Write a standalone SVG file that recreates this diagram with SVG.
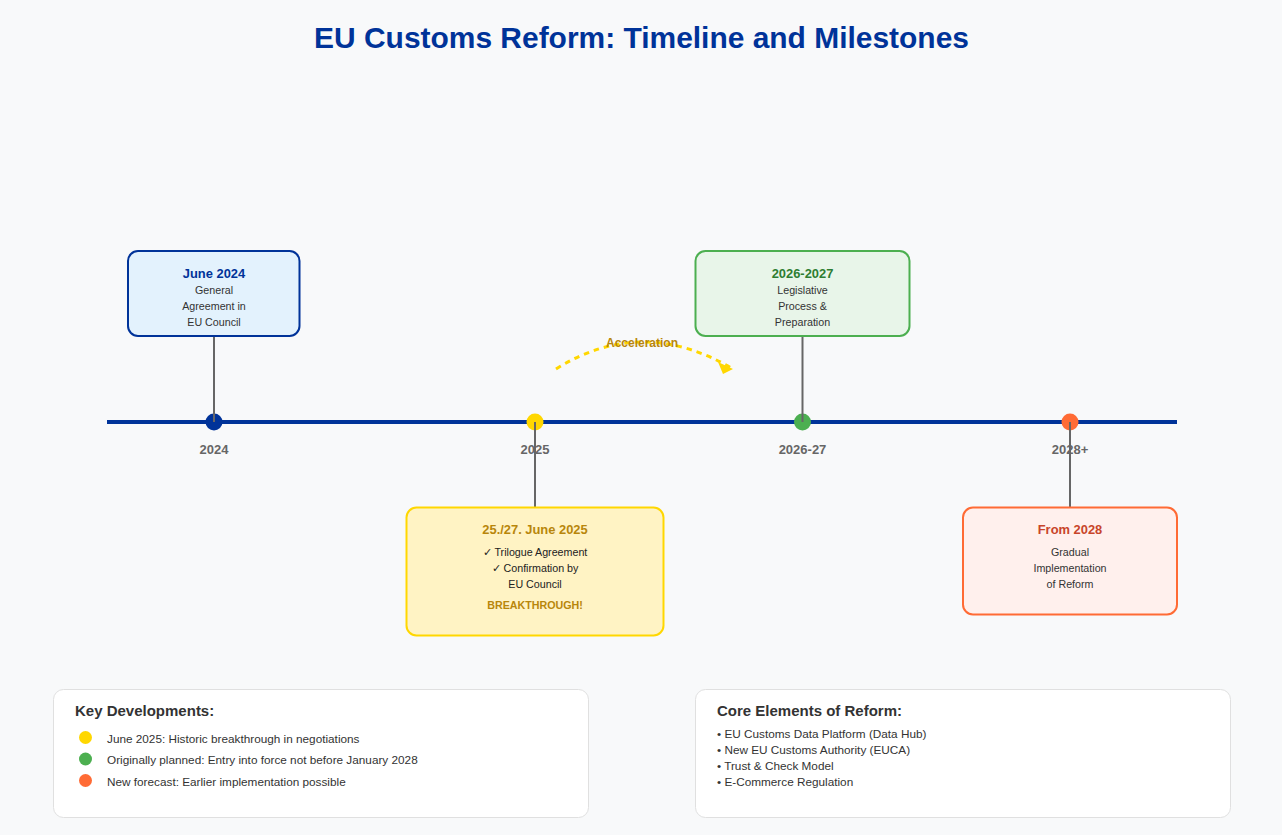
<svg xmlns="http://www.w3.org/2000/svg" width="1282" height="835" viewBox="0 0 1282 835">
<style>
text{font-family:"Liberation Sans",Arial,sans-serif;text-anchor:middle}
.title{font-size:29.95px;font-weight:700;fill:#003399}
.d{font-size:12.9px;font-weight:700}
.b{font-size:10.7px;fill:#333}
.y{font-size:13px;font-weight:700;fill:#666}
.st{stroke:#666;stroke-width:2;fill:none}
.l{font-size:11.77px;fill:#333;text-anchor:start}
.h{font-size:15px;font-weight:700;fill:#333;text-anchor:start}
.panel{fill:#fff;stroke:#e0e0e0;stroke-width:1}
</style>
<defs><marker id="ah" markerUnits="userSpaceOnUse" markerWidth="16" markerHeight="13" refX="15" refY="7" orient="0"><polygon points="0 0,15 7,5 12" fill="#ffd700"/></marker></defs>
<rect width="1282" height="835" fill="#f8f9fa"/>
<text class="title" x="641.500" y="48">EU Customs Reform: Timeline and Milestones</text>
<g id="axis"><line x1="107" y1="422" x2="1177" y2="422" stroke="#003399" stroke-width="4"/></g>
<g id="dots">
<circle cx="214" cy="422" r="8.500" fill="#003399"/><circle cx="535" cy="422" r="8.500" fill="#ffd700"/><circle cx="802.500" cy="422" r="8.500" fill="#4caf50"/><circle cx="1070" cy="422" r="8.500" fill="#ff6b35"/>
</g>
<g id="connectors">
<line class="st" x1="214" y1="337" x2="214" y2="422"/>
<line class="st" x1="535" y1="422" x2="535" y2="507"/>
<line class="st" x1="802.500" y1="337" x2="802.500" y2="422"/>
<line class="st" x1="1070" y1="422" x2="1070" y2="507"/>
<path d="M556 369Q642 315 733 369" fill="none" stroke="#ffd700" stroke-width="3" stroke-dasharray="5.500 5" marker-end="url(#ah)"/>
</g>
<text class="y" x="214" y="454">2024</text><text class="y" x="535" y="454">2025</text><text class="y" x="802.500" y="454">2026-27</text><text class="y" x="1070" y="454">2028+</text>
<text id="acc" x="642" y="347" font-size="12" font-weight="700" fill="#b8860b">Acceleration</text>
<g id="n2024"><rect x="128" y="251" width="171.500" height="85" rx="10" fill="#e3f2fd" stroke="#003399" stroke-width="2"/>
<text class="d" fill="#003399" x="214" y="278">June 2024</text><text class="b" x="214" y="294">General</text><text class="b" x="214" y="310">Agreement in</text><text class="b" x="214" y="326">EU Council</text></g>
<g id="n2025"><rect x="406.500" y="507.500" width="257" height="128" rx="10" fill="#fff3c4" stroke="#ffd700" stroke-width="2"/>
<text class="d" fill="#b8860b" x="535" y="534">25./27. June 2025</text><text class="b" x="535" y="556" style="fill:#222">✓ Trilogue Agreement</text><text class="b" x="535" y="572" style="fill:#222">✓ Confirmation by</text><text class="b" x="535" y="588" style="fill:#222">EU Council</text><text x="535" y="609" font-size="10.700" font-weight="700" fill="#b8860b">BREAKTHROUGH!</text></g>
<g id="n2026"><rect x="695.500" y="251" width="214" height="85" rx="10" fill="#e8f5e9" stroke="#4caf50" stroke-width="2"/>
<text class="d" fill="#2e7d32" x="802.500" y="278">2026-2027</text><text class="b" x="802.500" y="294">Legislative</text><text class="b" x="802.500" y="310">Process &amp;</text><text class="b" x="802.500" y="326">Preparation</text></g>
<g id="n2028"><rect x="963" y="507.500" width="214" height="107" rx="10" fill="#fff0ed" stroke="#ff6b35" stroke-width="2"/>
<text class="d" fill="#c8452a" x="1070" y="534">From 2028</text><text class="b" x="1070" y="556">Gradual</text><text class="b" x="1070" y="572">Implementation</text><text class="b" x="1070" y="588">of Reform</text></g>
<g id="key"><rect class="panel" x="53.500" y="689.500" width="535" height="128" rx="10"/>
<text class="h" x="75" y="716">Key Developments:</text>
<circle cx="85.500" cy="737.500" r="6.500" fill="#ffd700"/><circle cx="85.500" cy="759" r="6.500" fill="#4caf50"/><circle cx="85.500" cy="780.500" r="6.500" fill="#ff6b35"/>
<text class="l" x="107" y="743">June 2025: Historic breakthrough in negotiations</text><text class="l" x="107" y="764">Originally planned: Entry into force not before January 2028</text><text class="l" x="107" y="786">New forecast: Earlier implementation possible</text></g>
<g id="core"><rect class="panel" x="695.500" y="689.500" width="535" height="128" rx="10"/>
<text class="h" x="717" y="716">Core Elements of Reform:</text>
<text class="l" x="717" y="738">• EU Customs Data Platform (Data Hub)</text><text class="l" x="717" y="754">• New EU Customs Authority (EUCA)</text><text class="l" x="717" y="770">• Trust &amp; Check Model</text><text class="l" x="717" y="786">• E-Commerce Regulation</text></g>
</svg>
